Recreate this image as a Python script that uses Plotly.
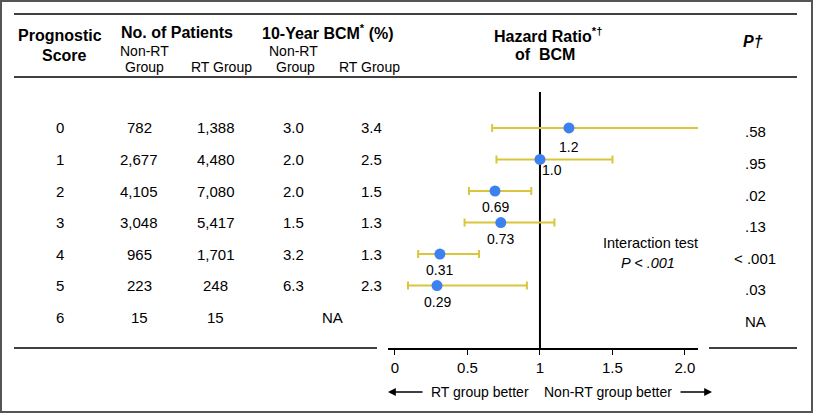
import plotly.graph_objects as go

W, H = 814, 414

SCORES = ["0", "1", "2", "3", "4", "5", "6"]
NON_RT_PATIENTS = ["782", "2,677", "4,105", "3,048", "965", "223", "15"]
RT_PATIENTS = ["1,388", "4,480", "7,080", "5,417", "1,701", "248", "15"]
NON_RT_BCM = ["3.0", "2.0", "2.0", "1.5", "3.2", "6.3"]
RT_BCM = ["3.4", "2.5", "1.5", "1.3", "1.3", "2.3"]
P_VALUES = [".58", ".95", ".02", ".13", "< .001", ".03", "NA"]

HR = [1.2, 1.0, 0.69, 0.73, 0.31, 0.29]
HR_LOW = [0.67, 0.70, 0.51, 0.48, 0.16, 0.09]
HR_HIGH = [2.10, 1.50, 0.94, 1.10, 0.58, 0.91]
HR_LABELS = ["1.2", "1.0", "0.69", "0.73", "0.31", "0.29"]

TICK_VALS = [0, 0.5, 1, 1.5, 2]
TICK_TEXT = ["0", "0.5", "1", "1.5", "2.0"]

FONT = "Liberation Sans, Arial, sans-serif"
BLUE = "#3d80f0"
GOLD = "#d9c63c"


def px(x):
    return x / W


def py(y):
    return 1 - y / H


annotations = []


def cell(x, row, text, size=15, yshift=0):
    annotations.append(dict(
        x=px(x), xref="paper", y=row, yref="y", text=text, showarrow=False,
        xanchor="center", yanchor="middle", yshift=yshift,
        font=dict(family=FONT, size=size, color="black"),
    ))


def head(x, y, text, size=15.5):
    annotations.append(dict(
        x=px(x), xref="paper", y=py(y), yref="paper", text=text, showarrow=False,
        xanchor="center", yanchor="middle",
        font=dict(family=FONT, size=size, color="black"),
    ))


rows = list(range(len(SCORES)))

fig = go.Figure()
fig.add_trace(go.Scatter(
    x=HR, y=rows[:len(HR)], mode="markers",
    marker=dict(color=BLUE, size=11),
    error_x=dict(
        type="data", symmetric=False,
        array=[h - v for v, h in zip(HR, HR_HIGH)],
        arrayminus=[v - l for v, l in zip(HR, HR_LOW)],
        color=GOLD, thickness=2, width=4,
    ),
    hoverinfo="skip",
))

# table body
for i in rows:
    cell(60, i, SCORES[i])
    cell(139, i, NON_RT_PATIENTS[i])
    cell(216, i, RT_PATIENTS[i])
    if i < len(NON_RT_BCM):
        cell(293, i, NON_RT_BCM[i])
        cell(371, i, RT_BCM[i])
    else:
        cell(332, i, "NA")
    cell(755, i, P_VALUES[i], yshift=-4)

# HR value labels under the points
label_shift = {1: (12, -11), 0: (0, -19)}
for i, (v, lab) in enumerate(zip(HR, HR_LABELS)):
    xs, ys = label_shift.get(i, (0, -16))
    annotations.append(dict(
        x=v, xref="x", y=i, yref="y", text=lab, showarrow=False,
        xanchor="center", yanchor="middle", xshift=xs, yshift=ys,
        font=dict(family=FONT, size=14, color="black"),
    ))

# headers
head(60, 36, "<b>Prognostic</b>", 16)
head(64, 55, "<b>Score</b>", 16)
head(177, 32, "<b>No. of Patients</b>", 16)
head(144, 51, "Non-RT", 14)
head(144, 67, "Group", 14)
head(221, 67, "RT Group", 14)
head(328, 32, "<b>10-Year BCM<sup>*</sup> (%)</b>", 16)
head(293, 51, "Non-RT", 14)
head(295, 67, "Group", 14)
head(369, 67, "RT Group", 14)
head(548, 35, "<b>Hazard Ratio<sup>*†</sup></b>", 16)
head(545, 54, "<b>of  BCM</b>", 16)
head(753, 41, "<b><i>P†</i></b>", 16)

head(650, 243, "Interaction test", 14.5)
head(648, 263, "<i>P < .001</i>", 14.5)

# direction labels, each with its arrow drawn from the text outwards
arrow = dict(showarrow=True, arrowhead=2, arrowsize=1.2, arrowwidth=1.3,
             arrowcolor="black", xref="paper", yref="paper", ay=0,
             standoff=0, startstandoff=7,
             font=dict(family=FONT, size=14, color="black"))
annotations.append(dict(arrow, x=px(388), y=py(392), ax=92, text="RT group better"))
annotations.append(dict(arrow, x=px(712), y=py(392), ax=-104, text="Non-RT group better"))

line = dict(color="black", width=1.3)
shapes = [
    dict(type="rect", xref="paper", yref="paper", x0=px(1), x1=px(812), y0=py(412), y1=py(1),
         line=dict(color="#555555", width=2)),
    dict(type="line", xref="paper", yref="paper", x0=px(14), x1=px(797), y0=py(14), y1=py(14), line=line),
    dict(type="line", xref="paper", yref="paper", x0=px(14), x1=px(797), y0=py(77), y1=py(77), line=line),
    dict(type="line", xref="paper", yref="paper", x0=px(14), x1=px(377), y0=py(348), y1=py(348), line=line),
    dict(type="line", xref="paper", yref="paper", x0=px(709), x1=px(797), y0=py(348), y1=py(348), line=line),
    dict(type="line", xref="x", yref="y domain", x0=1, x1=1, y0=0, y1=1,
         line=dict(color="black", width=2), layer="below"),
]

fig.update_layout(
    width=W, height=H,
    margin=dict(l=0, r=0, t=0, b=0),
    paper_bgcolor="white", plot_bgcolor="white",
    showlegend=False,
    font=dict(family=FONT, color="black"),
    xaxis=dict(
        domain=[px(388), px(698)], range=[-0.048, 2.09],
        showgrid=False, zeroline=False, showline=True, linecolor="black", linewidth=2,
        ticks="outside", ticklen=5, tickwidth=1.3, tickcolor="black",
        tickvals=TICK_VALS, ticktext=TICK_TEXT, tickfont=dict(family=FONT, size=15),
        fixedrange=True,
    ),
    yaxis=dict(
        domain=[py(348), py(92)], range=[6.98, -1.14],
        showgrid=False, zeroline=False, showticklabels=False, fixedrange=True,
    ),
    annotations=annotations,
    shapes=shapes,
)

fig.write_html(
    "out.html",
    config={"displayModeBar": False},
    post_script="document.body.style.margin = '0';",
)
